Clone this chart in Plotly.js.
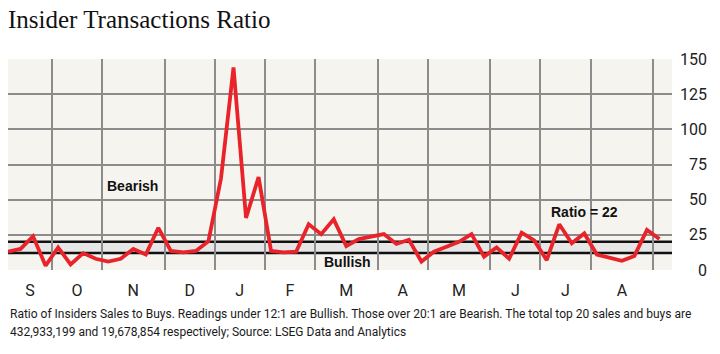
<!DOCTYPE html>
<html><head><meta charset="utf-8">
<script src="https://cdn.plot.ly/plotly-3.0.1.min.js"></script>
<style>html,body{margin:0;padding:0;background:#fff}#chart{width:720px;height:354px}</style>
</head><body><div id="chart"></div>
<script>
// Weekly insider sales-to-buys ratio (Sep .. Aug)
const ratio = [13, 15, 24, 3, 16, 4, 12, 8, 6, 8, 15, 11, 30, 13.5, 12.5, 13.5, 20.5,
  65, 144, 37, 66, 13.5, 12.5, 13, 32.5, 25.5, 36, 17, 22, 24, 25.5, 18.5, 21.5, 6,
  13, 16.5, 20, 25.5, 9.5, 16, 8, 26.5, 21, 7, 32.5, 19, 26, 11, 8.5, 6.5, 10, 28.5, 22];
const monthLabels = ['S', 'O', 'N', 'D', 'J', 'F', 'M', 'A', 'M', 'J', 'J', 'A'];
const weeksPerMonth = [4, 4, 5, 4, 4, 4, 5, 4, 5, 4, 4, 5];
const yTicks = [0, 25, 50, 75, 100, 125, 150];
const bullishLevel = 12;
const bearishLevel = 20;
const latestRatio = 22;
const titleText = 'Insider Transactions Ratio';
const noteLines = [
  'Ratio of Insiders Sales to Buys. Readings under 12:1 are Bullish. Those over 20:1 are Bearish. The total top 20 sales and buys are',
  '432,933,199 and 19,678,854 respectively; Source: LSEG Data and Analytics'
];

// month boundaries (gridlines) and label centres, in week-index units
const bounds = [], centers = [];
let start = -0.5;
weeksPerMonth.forEach(n => {
  const end = start + n;
  centers.push((Math.max(start, 0) + end) / 2);
  bounds.push(end);
  start = end;
});

const narrow = '"Liberation Sans Narrow", "Arial Narrow", "Roboto", sans-serif';
const labelFont = '"Liberation Sans", Arial, sans-serif';
const gridCol = '#8c8c8c';

const trace = {
  y: ratio, x0: 0, dx: 1, type: 'scatter', mode: 'lines',
  line: {color: '#e8242a', width: 3.8}, hoverinfo: 'skip', showlegend: false
};

const noteAnnotations = noteLines.map((t, i) => ({
  x: 0, y: (-44 - 18 * i) / 211, xref: 'paper', yref: 'paper', xanchor: 'left', yanchor: 'middle',
  align: 'left', text: t, showarrow: false,
  font: {family: narrow, size: 12, color: '#1a1a1a'}
}));

const layout = {
  width: 720, height: 354,
  margin: {l: 8, r: 10, t: 59, b: 84},
  paper_bgcolor: '#ffffff', plot_bgcolor: '#f6f4ef',
  showlegend: false,
  title: {
    text: titleText, x: 0, xref: 'paper', xanchor: 'left',
    y: 1 - 19 / 354, yref: 'container', yanchor: 'middle',
    font: {family: '"Liberation Serif", "DejaVu Serif", serif', size: 25, color: '#111'}
  },
  xaxis: {
    domain: [0, 664 / 702], range: [0, 53],
    tickmode: 'array', tickvals: centers, ticktext: monthLabels,
    showgrid: false, zeroline: false, showline: false, ticks: '',
    ticklabelstandoff: 9,
    tickfont: {family: narrow, size: 16, color: '#222'},
    minor: {tickmode: 'array', tickvals: bounds, showgrid: true, gridcolor: gridCol, gridwidth: 2, ticks: ''},
    fixedrange: true
  },
  yaxis: {
    range: [0, 150], anchor: 'free', position: 1, side: 'left',
    tickmode: 'array', tickvals: yTicks,
    showgrid: true, gridcolor: gridCol, gridwidth: 2,
    zeroline: false, showline: false, ticks: '',
    ticklabelstandoff: 3,
    tickfont: {family: narrow, size: 16, color: '#222'},
    fixedrange: true
  },
  shapes: [
    {type: 'rect', xref: 'x domain', x0: 0, x1: 1, yref: 'y', y0: bullishLevel, y1: bearishLevel,
      fillcolor: '#e6e6e6', line: {width: 0}, layer: 'below'},
    {type: 'line', xref: 'x domain', x0: 0, x1: 1, yref: 'y', y0: bullishLevel, y1: bullishLevel,
      line: {color: '#111', width: 2.5}, layer: 'below'},
    {type: 'line', xref: 'x domain', x0: 0, x1: 1, yref: 'y', y0: bearishLevel, y1: bearishLevel,
      line: {color: '#111', width: 2.5}, layer: 'below'}
  ],
  annotations: [
    {x: 9.95, y: 60, xref: 'x', yref: 'y', text: 'Bearish', showarrow: false,
      font: {family: labelFont, size: 14, color: '#111', weight: 'bold'}},
    {x: 27.1, y: 5.7, xref: 'x', yref: 'y', text: 'Bullish', showarrow: false,
      font: {family: labelFont, size: 14, color: '#111', weight: 'bold'}},
    {x: 46.05, y: 41, xref: 'x', yref: 'y', text: 'Ratio = ' + latestRatio, showarrow: false,
      font: {family: labelFont, size: 14, color: '#111', weight: 'bold'}}
  ].concat(noteAnnotations)
};

Plotly.newPlot('chart', [trace], layout, {displayModeBar: false, staticPlot: true});
</script>
</body></html>
